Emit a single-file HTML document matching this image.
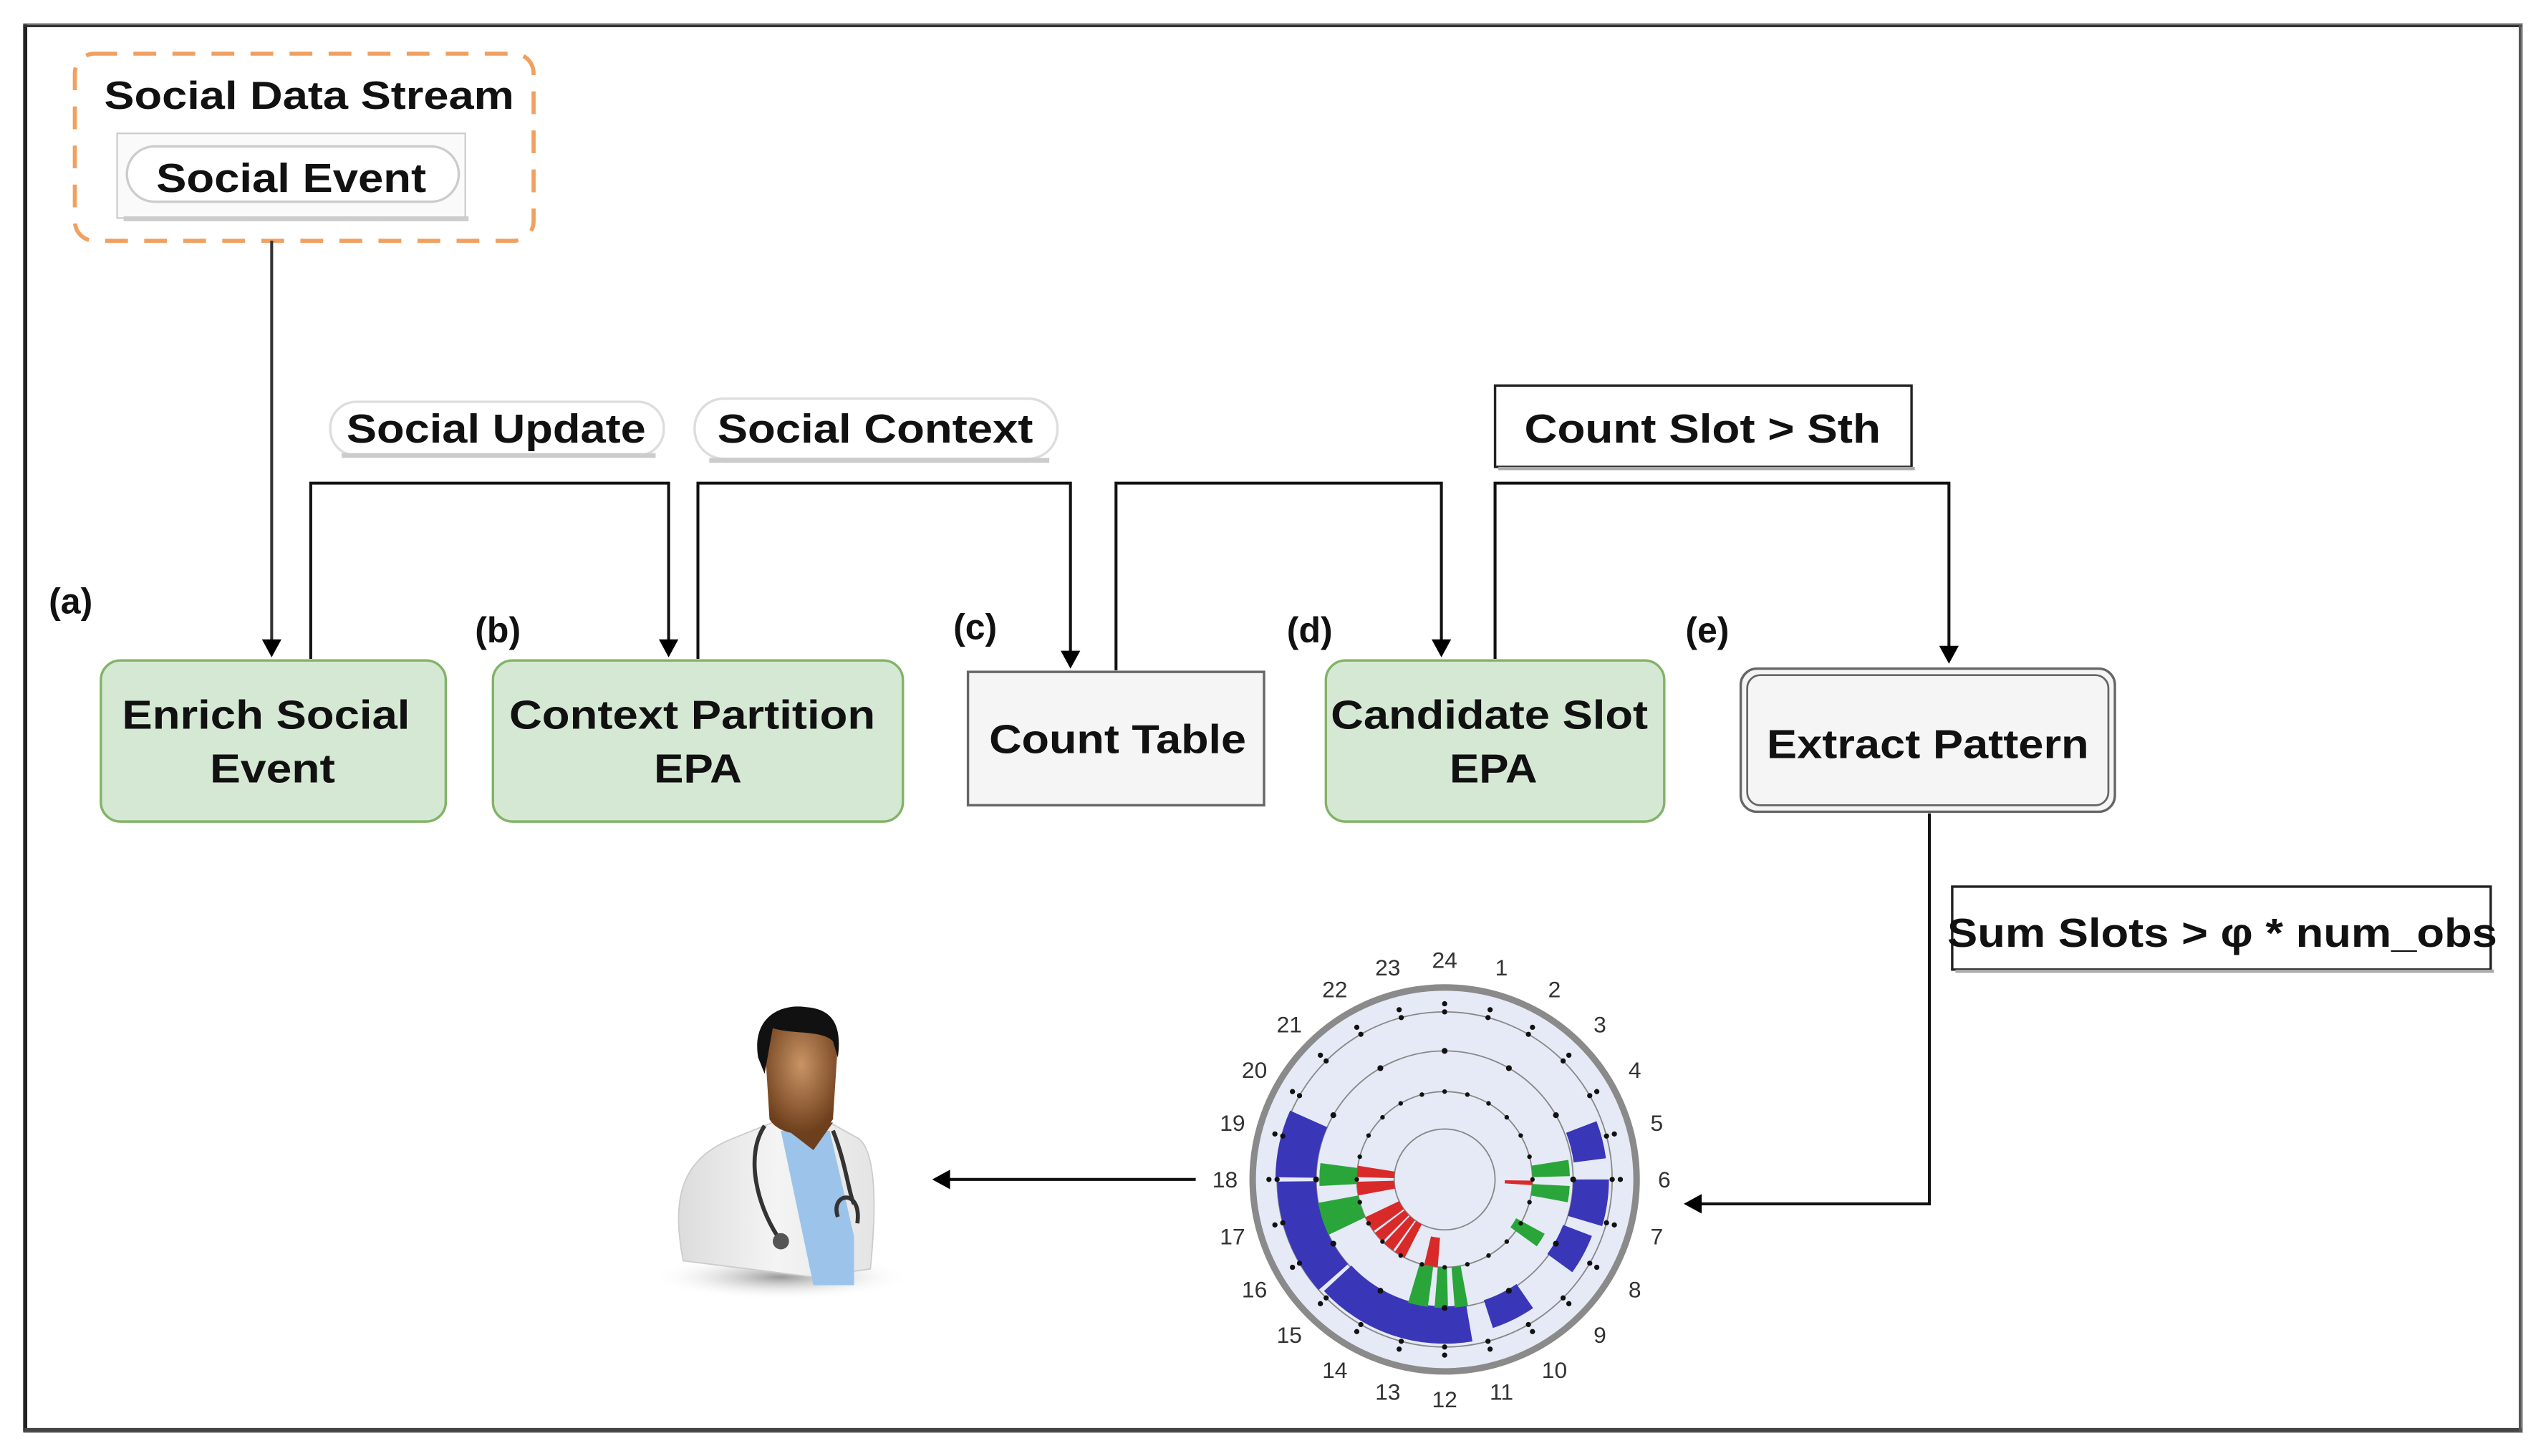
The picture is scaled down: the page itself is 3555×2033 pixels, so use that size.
<!DOCTYPE html>
<html><head><meta charset="utf-8"><style>
html,body{margin:0;padding:0;background:#fff;}
svg{display:block;}
text{font-family:"Liberation Sans",Arial,sans-serif;font-weight:bold;fill:#111;}
</style></head><body>
<svg id="s" width="3555" height="2033" viewBox="0 0 1565 895" preserveAspectRatio="none" xmlns="http://www.w3.org/2000/svg">
<defs>
<marker id="ar" markerWidth="10" markerHeight="10" refX="5" refY="9" orient="auto" markerUnits="userSpaceOnUse" viewBox="0 0 10 10">
</marker>
<radialGradient id="face" cx="0.5" cy="0.4" r="0.6"><stop offset="0" stop-color="#c99466"/><stop offset="1" stop-color="#6e3f1c"/></radialGradient>
<radialGradient id="shad" cx="0.5" cy="0.5" r="0.5"><stop offset="0" stop-color="#999"/><stop offset="1" stop-color="#fff" stop-opacity="0"/></radialGradient>
<linearGradient id="coat" x1="0" x2="1"><stop offset="0" stop-color="#dcdcdc"/><stop offset="0.5" stop-color="#f4f4f4"/><stop offset="1" stop-color="#e4e4e4"/></linearGradient>
</defs>
<!-- outer frame -->
<rect x="15" y="15" width="1535" height="865" fill="#fff" stroke="#888" stroke-width="1.5"/>
<line x1="15.5" y1="15" x2="15.5" y2="880" stroke="#222" stroke-width="2.5"/>
<line x1="15" y1="879" x2="1550" y2="879" stroke="#444" stroke-width="2.5"/>
<line x1="15" y1="16" x2="1550" y2="16" stroke="#333" stroke-width="1.5"/>
<line x1="1549" y1="15" x2="1549" y2="880" stroke="#555" stroke-width="1.5"/>

<!-- Social data stream -->
<rect x="46" y="33" width="282" height="115" rx="12" fill="none" stroke="#f0a060" stroke-width="2.5" stroke-dasharray="14,10"/>
<text x="64" y="67" font-size="24" textLength="252" lengthAdjust="spacingAndGlyphs">Social Data Stream</text>
<rect x="72" y="82" width="214" height="52" fill="#fafafa" stroke="#ccc" stroke-width="1"/>
<rect x="76" y="133" width="212" height="3" fill="#ccc"/>
<rect x="78" y="90" width="204" height="34" rx="17" fill="#fff" stroke="#ccc" stroke-width="1.5"/>
<text x="96" y="118" font-size="25" textLength="166" lengthAdjust="spacingAndGlyphs">Social Event</text>
<line x1="167" y1="148" x2="167" y2="396" stroke="#333" stroke-width="1.8"/>
<path d="M161,393 L173,393 L167,404 Z" fill="#000"/>

<!-- pills -->
<rect x="203" y="247" width="205" height="33" rx="16" fill="#fff" stroke="#ddd" stroke-width="1.5"/>
<line x1="210" y1="280" x2="403" y2="280" stroke="#ccc" stroke-width="3"/>
<text x="213" y="272" font-size="25" textLength="184" lengthAdjust="spacingAndGlyphs">Social Update</text>
<rect x="427" y="245" width="223" height="37" rx="18" fill="#fff" stroke="#ddd" stroke-width="1.5"/>
<line x1="436" y1="283" x2="645" y2="283" stroke="#ccc" stroke-width="3"/>
<text x="441" y="272" font-size="25" textLength="194" lengthAdjust="spacingAndGlyphs">Social Context</text>
<rect x="919" y="237" width="256" height="50" fill="#fff" stroke="#222" stroke-width="1.5"/>
<line x1="921" y1="288" x2="1177" y2="288" stroke="#aaa" stroke-width="2"/>
<text x="937" y="272" font-size="25" textLength="219" lengthAdjust="spacingAndGlyphs">Count Slot &gt; Sth</text>

<!-- connectors -->
<g fill="none" stroke="#111" stroke-width="1.8">
<polyline points="191,405 191,297 411,297 411,396"/>
<polyline points="429,405 429,297 658,297 658,403"/>
<polyline points="686,412 686,297 886,297 886,396"/>
<polyline points="919,405 919,297 1198,297 1198,400"/>
<polyline points="1186,500 1186,740 1045,740"/>
<line x1="735" y1="725" x2="583" y2="725"/>
</g>
<g fill="#000">
<path d="M405,393 L417,393 L411,404 Z"/>
<path d="M652,400 L664,400 L658,411 Z"/>
<path d="M880,393 L892,393 L886,404 Z"/>
<path d="M1192,397 L1204,397 L1198,408 Z"/>
<path d="M1046,734 L1046,746 L1035,740 Z"/>
<path d="M584,719 L584,731 L573,725 Z"/>
</g>

<!-- labels -->
<text x="30" y="377" font-size="22">(a)</text>
<text x="292" y="395" font-size="22">(b)</text>
<text x="586" y="393" font-size="22">(c)</text>
<text x="791" y="395" font-size="22">(d)</text>
<text x="1036" y="395" font-size="22">(e)</text>

<!-- boxes -->
<rect x="62" y="406" width="212" height="99" rx="12" fill="#d5e8d4" stroke="#82b366" stroke-width="1.5"/>
<text x="75" y="448" font-size="25" textLength="177" lengthAdjust="spacingAndGlyphs">Enrich Social</text>
<text x="129" y="481" font-size="25" textLength="77" lengthAdjust="spacingAndGlyphs">Event</text>
<rect x="303" y="406" width="252" height="99" rx="12" fill="#d5e8d4" stroke="#82b366" stroke-width="1.5"/>
<text x="313" y="448" font-size="25" textLength="225" lengthAdjust="spacingAndGlyphs">Context Partition</text>
<text x="402" y="481" font-size="25" textLength="54" lengthAdjust="spacingAndGlyphs">EPA</text>
<rect x="595" y="413" width="182" height="82" fill="#f5f5f5" stroke="#666" stroke-width="1.5"/>
<text x="608" y="463" font-size="25" textLength="158" lengthAdjust="spacingAndGlyphs">Count Table</text>
<rect x="815" y="406" width="208" height="99" rx="12" fill="#d5e8d4" stroke="#82b366" stroke-width="1.5"/>
<text x="818" y="448" font-size="25" textLength="195" lengthAdjust="spacingAndGlyphs">Candidate Slot</text>
<text x="891" y="481" font-size="25" textLength="54" lengthAdjust="spacingAndGlyphs">EPA</text>
<rect x="1070" y="411" width="230" height="88" rx="10" fill="#f5f5f5" stroke="#666" stroke-width="1.5"/>
<rect x="1074" y="415" width="222" height="80" rx="8" fill="none" stroke="#666" stroke-width="1.2"/>
<text x="1086" y="466" font-size="25" textLength="198" lengthAdjust="spacingAndGlyphs">Extract Pattern</text>

<rect x="1200" y="545" width="331" height="51" fill="#fff" stroke="#222" stroke-width="1.5"/>
<line x1="1202" y1="597" x2="1533" y2="597" stroke="#aaa" stroke-width="2"/>
<text x="1197" y="582" font-size="25" textLength="338" lengthAdjust="spacingAndGlyphs">Sum Slots &gt; φ * num_obs</text>

<!-- doctor -->
<ellipse cx="480" cy="785" rx="80" ry="14" fill="url(#shad)"/>
<path d="M420,775 C412,735 420,712 450,700 L475,690 L510,690 L528,700 C540,710 538,750 535,780 L500,785 Z" fill="url(#coat)" stroke="#ccc" stroke-width="0.8"/>
<path d="M480,695 L510,695 L525,760 L525,790 L500,790 Z" fill="#9cc4ea"/>
<path d="M478,690 L512,690 L500,707 Z" fill="#6e3f1c"/>
<path d="M470,640 C470,622 512,620 515,642 L512,688 C505,700 480,700 473,688 Z" fill="url(#face)"/>
<path d="M466,650 C462,625 480,617 495,619 C510,620 518,628 515,650 L512,640 C505,633 488,636 475,632 L470,660 Z" fill="#111"/>
<path d="M470,692 C458,710 465,740 478,760" fill="none" stroke="#333" stroke-width="2.5"/>
<circle cx="480" cy="763" r="5" fill="#555"/>
<path d="M512,695 C520,715 522,735 525,740" fill="none" stroke="#333" stroke-width="2.5"/>
<path d="M515,748 C510,733 530,730 527,752" fill="none" stroke="#333" stroke-width="2.5"/>

<g id="chart"></g>
</svg>
<script>
(function(){
var ns="http://www.w3.org/2000/svg",g=document.getElementById("chart");
var cx=888,cy=725;
function el(n,a){var e=document.createElementNS(ns,n);for(var k in a)e.setAttribute(k,a[k]);g.appendChild(e);return e;}
function pt(h,r){var a=h*Math.PI/12;return [cx+r*Math.sin(a),cy-r*Math.cos(a)];}
el("circle",{cx:cx,cy:cy,r:118,fill:"#e6eaf6",stroke:"#8a8a8a","stroke-width":4});
[103,79,54,31].forEach(function(r){el("circle",{cx:cx,cy:cy,r:r,fill:"none",stroke:"#888","stroke-width":0.8});});
function wedge(h0,h1,r0,r1,c){var a=pt(h0,r1),b=pt(h1,r1),d=pt(h1,r0),e=pt(h0,r0);
el("path",{d:"M"+a+" A"+r1+","+r1+" 0 0 1 "+b+" L"+d+" A"+r0+","+r0+" 0 0 0 "+e+" Z",fill:c});}
var B="#3a36b8",G="#2aa53a",R="#d92a2a";
[[18.05,19.6,79,104],[15.25,17.95,79,103],[11.35,15.15,78,101],[9.7,10.8,78,96],[7.4,8.4,78,97],[6.0,7.1,79,101],[4.6,5.5,80,100]].forEach(function(w){wedge(w[0],w[1],w[2],w[3],B);});
[[17.8,18.5,54,77],[16.3,17.3,54,79],[12.5,13.1,54,79],[11.9,12.3,54,79],[11.3,11.7,54,79],[5.4,5.9,54,77],[6.2,6.7,54,77],[7.9,8.4,50,70]].forEach(function(w){wedge(w[0],w[1],w[2],w[3],G);});
[[17.3,17.9,31,54],[18.1,18.6,31,54],[15.6,16.3,31,54],[15.0,15.5,31,54],[14.4,14.9,31,54],[13.8,14.3,31,54],[12.3,12.9,36,54],[6.05,6.25,37,54]].forEach(function(w){wedge(w[0],w[1],w[2],w[3],R);});
for(var h=0;h<24;h++){[103,108].forEach(function(r){var p=pt(h,r);el("circle",{cx:p[0],cy:p[1],r:1.6,fill:"#111"});});
if(h%2==0){var p=pt(h,79);el("circle",{cx:p[0],cy:p[1],r:1.8,fill:"#111"});}
var q=pt(h,54);el("circle",{cx:q[0],cy:q[1],r:1.4,fill:"#111"});
var lab=h==0?24:h,lp=pt(h,135);var t=el("text",{x:lp[0],y:lp[1]+5,"font-size":14,"text-anchor":"middle",style:"font-weight:normal;fill:#333"});t.textContent=lab;}
})();
</script>
</body></html>
